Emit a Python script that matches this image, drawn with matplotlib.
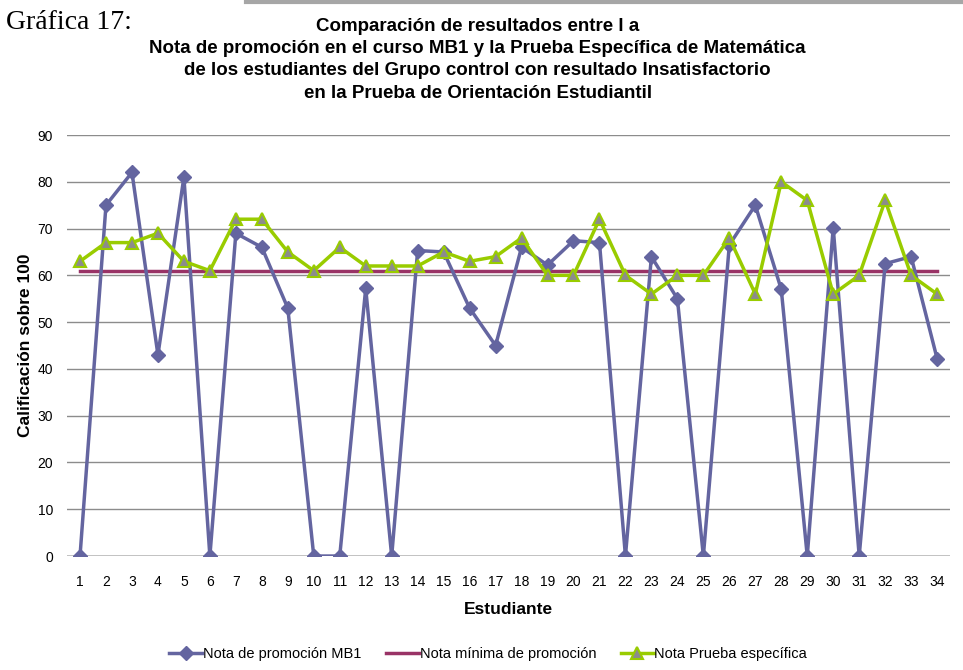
import matplotlib
matplotlib.use("Agg")
import matplotlib.pyplot as plt
from matplotlib.lines import Line2D

plt.rcParams['font.family'] = ['Liberation Sans', 'DejaVu Sans']

# datos
estudiantes = list(range(1, 35))
nota_mb1 = [0, 75, 82, 43, 81, 0, 69, 66, 53, 0, 0, 57.2, 0, 65.3, 65, 53, 45, 66,
            62.2, 67.4, 67, 0, 64, 55, 0, 66.5, 75, 57, 0, 70.2, 0, 62.5, 64, 42.2]
nota_minima = [61] * 34
nota_prueba = [63, 67, 67, 69, 63, 61, 72, 72, 65, 61, 66, 62, 62, 62, 65, 63, 64, 68,
               60, 60, 72, 60, 56, 60, 60, 68, 56, 80, 76, 56, 60, 76, 60, 56]

titulo = ("Comparación de resultados entre l a\n"
          "Nota de promoción en el curso MB1 y la Prueba Específica de Matemática\n"
          "de los estudiantes del Grupo control con resultado Insatisfactorio\n"
          "en la Prueba de Orientación Estudiantil")

fig = plt.figure(figsize=(9.63, 6.70), dpi=100)
ax = fig.add_axes([0.0696, 0.1701, 0.917, 0.6284])

ax.plot(estudiantes, nota_mb1, color='#6465a0', lw=2.5, marker='D', ms=7,
        label='Nota de promoción MB1', zorder=3)
ax.plot(estudiantes, nota_minima, color='#993366', lw=2.5,
        label='Nota mínima de promoción', zorder=2)
ax.plot(estudiantes, nota_prueba, color='#99cc00', lw=2.5, marker='^', ms=9,
        markerfacecolor='#8c8c8c', markeredgecolor='#99cc00', markeredgewidth=1.5,
        label='Nota Prueba específica', zorder=4)

ax.set_xlim(0.5, 34.5)
ax.set_ylim(0, 90)
ax.set_yticks(range(0, 91, 10))
ax.set_xticks(estudiantes)
ax.tick_params(length=0, labelsize=10)
ax.tick_params(axis='x', pad=14)
ax.tick_params(axis='y', pad=10)
ax.yaxis.grid(True, color='#8c8c8c', lw=1)
ax.set_axisbelow(True)
for s in ax.spines.values():
    s.set_visible(False)
ax.axhline(0, color='#bfbfbf', lw=2, zorder=1)

ax.set_xlabel('Estudiante', fontsize=12.5, fontweight='bold', labelpad=9)
ax.set_ylabel('Calificación sobre 100', fontsize=12.5, fontweight='bold', labelpad=3)

fig.text(0.496, 0.973, titulo, ha='center', va='top', fontsize=13.5,
         fontweight='bold', linespacing=1.4)
fig.text(0.006, 0.985, 'Gráfica 17:', ha='left', va='top', fontsize=20,
         family='Liberation Serif')
fig.add_artist(Line2D([0.255, 1.0], [0.997, 0.997], color='#a6a6a6', lw=3))

ax.legend(loc='upper center', bbox_to_anchor=(0.477, -0.185), ncol=3, frameon=False,
          fontsize=10.5, handlelength=2.25, columnspacing=1.7, handletextpad=0.05)

fig.savefig('out.png', dpi=100)
